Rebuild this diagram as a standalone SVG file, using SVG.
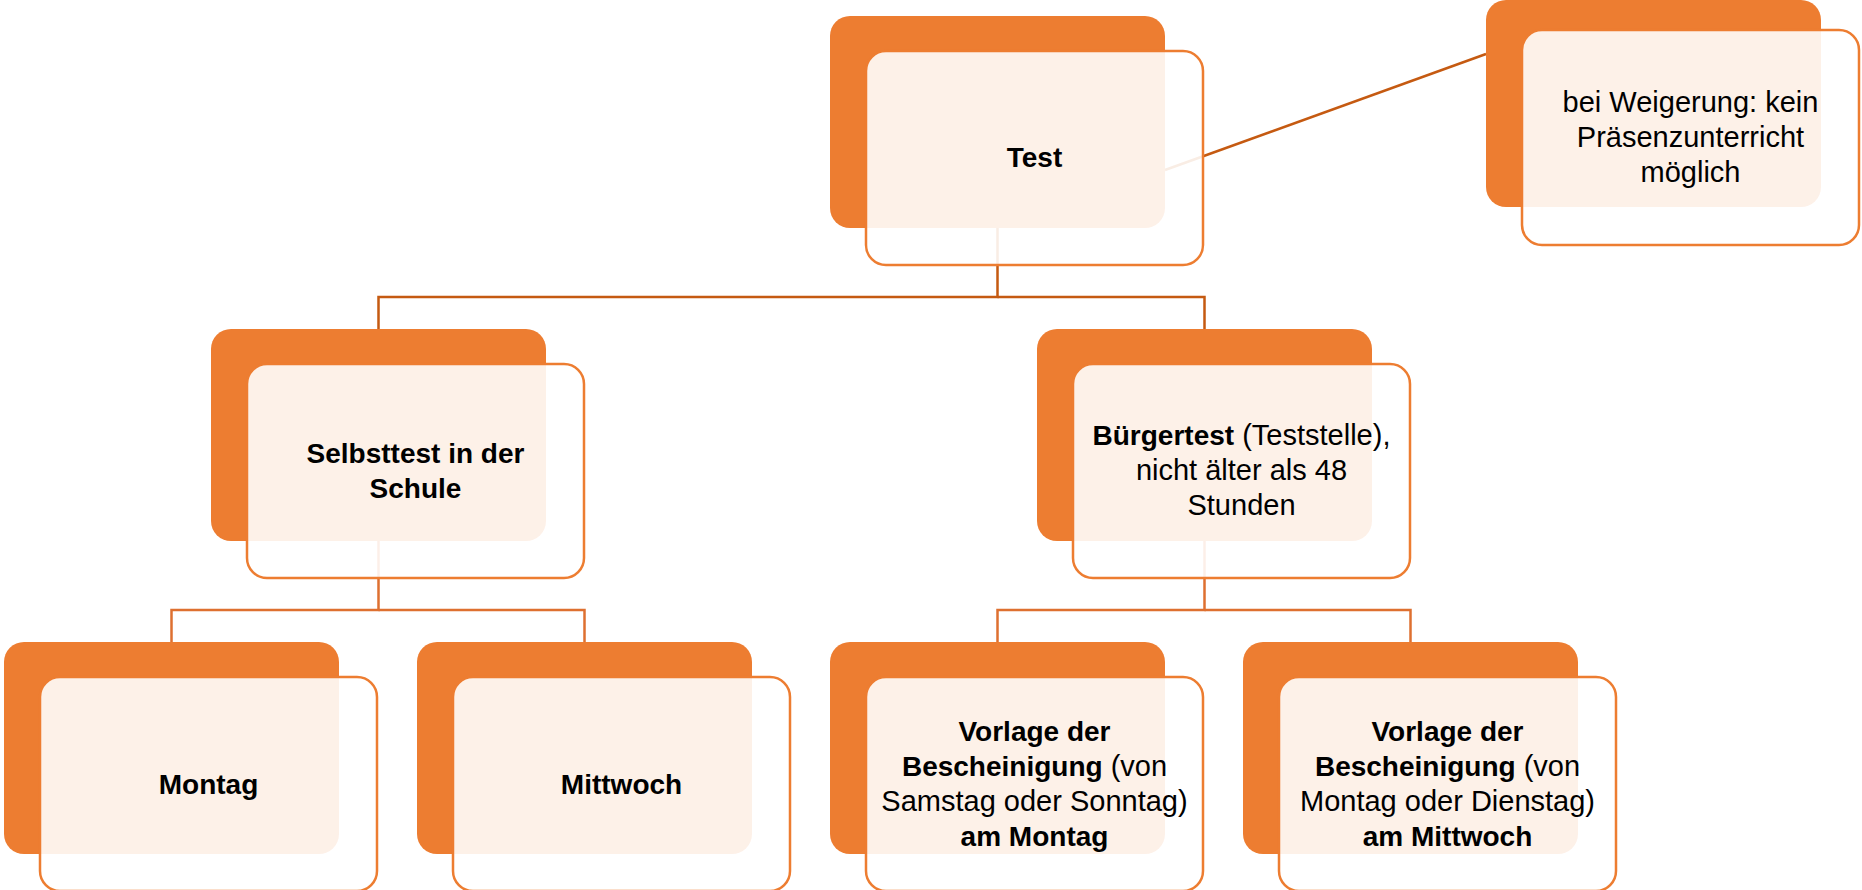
<svg xmlns="http://www.w3.org/2000/svg" width="1862" height="890" viewBox="0 0 1862 890">
<style>
.back{fill:#ED7D31}
.front{fill:#ffffff;fill-opacity:0.89;stroke:#ED7D31;stroke-width:2.5}
.t{font-family:"Liberation Sans",Arial,sans-serif;font-size:29px;fill:#000000;text-anchor:middle}
.b{font-weight:bold;font-size:28px}
.c1{fill:none;stroke:#C55A11;stroke-width:2.5}
.c2{fill:none;stroke:#DE7030;stroke-width:2.5}
</style>
<rect width="1862" height="890" fill="#ffffff"/>
<g id="connectors">
<path class="c1" d="M997.5 228 V297 H378.5 V329"/>
<path class="c1" d="M997.5 297 H1204.5 V329"/>
<path class="c1" d="M1165 170 L1486 54"/>
<path class="c2" d="M378.5 541 V610 H171.5 V642"/>
<path class="c2" d="M378.5 610 H584.5 V642"/>
<path class="c2" d="M1204.5 541 V610 H997.5 V642"/>
<path class="c2" d="M1204.5 610 H1410.5 V642"/>
</g>
<g id="node-test">
<rect class="back" x="830" y="16" width="335" height="212" rx="20"/>
<rect class="front" x="866" y="51" width="337" height="214" rx="20"/>
<text class="t" x="1034.5" y="167"><tspan class="b">Test</tspan></text>
</g>
<g id="node-weigerung">
<rect class="back" x="1486" y="0" width="335" height="207" rx="20"/>
<rect class="front" x="1522" y="30" width="337" height="215" rx="20"/>
<text class="t" x="1690.5" y="111.5">bei Weigerung: kein</text>
<text class="t" x="1690.5" y="146.5">Präsenzunterricht</text>
<text class="t" x="1690.5" y="181.5">möglich</text>
</g>
<g id="node-selbsttest">
<rect class="back" x="211" y="329" width="335" height="212" rx="20"/>
<rect class="front" x="247" y="364" width="337" height="214" rx="20"/>
<text class="t" x="415.5" y="462.5"><tspan class="b">Selbsttest in der</tspan></text>
<text class="t" x="415.5" y="497.5"><tspan class="b">Schule</tspan></text>
</g>
<g id="node-buergertest">
<rect class="back" x="1037" y="329" width="335" height="212" rx="20"/>
<rect class="front" x="1073" y="364" width="337" height="214" rx="20"/>
<text class="t" x="1241.5" y="444.5"><tspan class="b">Bürgertest</tspan> (Teststelle),</text>
<text class="t" x="1241.5" y="479.5">nicht älter als 48</text>
<text class="t" x="1241.5" y="514.5">Stunden</text>
</g>
<g id="node-montag">
<rect class="back" x="4" y="642" width="335" height="212" rx="20"/>
<rect class="front" x="40" y="677" width="337" height="214" rx="20"/>
<text class="t" x="208.5" y="794"><tspan class="b">Montag</tspan></text>
</g>
<g id="node-mittwoch">
<rect class="back" x="417" y="642" width="335" height="212" rx="20"/>
<rect class="front" x="453" y="677" width="337" height="214" rx="20"/>
<text class="t" x="621.5" y="794"><tspan class="b">Mittwoch</tspan></text>
</g>
<g id="node-vorlage-montag">
<rect class="back" x="830" y="642" width="335" height="212" rx="20"/>
<rect class="front" x="866" y="677" width="337" height="214" rx="20"/>
<text class="t" x="1034.5" y="740.5"><tspan class="b">Vorlage der</tspan></text>
<text class="t" x="1034.5" y="775.5"><tspan class="b">Bescheinigung</tspan> (von</text>
<text class="t" x="1034.5" y="810.5">Samstag oder Sonntag)</text>
<text class="t" x="1034.5" y="845.5"><tspan class="b">am Montag</tspan></text>
</g>
<g id="node-vorlage-mittwoch">
<rect class="back" x="1243" y="642" width="335" height="212" rx="20"/>
<rect class="front" x="1279" y="677" width="337" height="214" rx="20"/>
<text class="t" x="1447.5" y="740.5"><tspan class="b">Vorlage der</tspan></text>
<text class="t" x="1447.5" y="775.5"><tspan class="b">Bescheinigung</tspan> (von</text>
<text class="t" x="1447.5" y="810.5">Montag oder Dienstag)</text>
<text class="t" x="1447.5" y="845.5"><tspan class="b">am Mittwoch</tspan></text>
</g>
</svg>
